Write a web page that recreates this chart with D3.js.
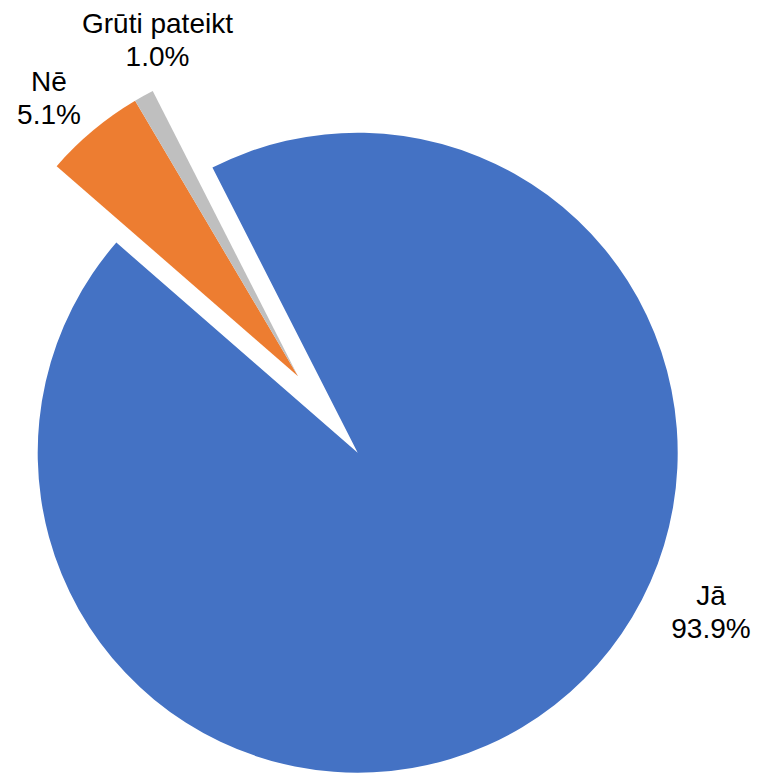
<!DOCTYPE html>
<html>
<head>
<meta charset="utf-8">
<script src="https://cdn.jsdelivr.net/npm/d3@7"></script>
<style>
  html, body { margin: 0; padding: 0; background: #ffffff; }
  svg { display: block; }
  text { font-family: "Liberation Sans", Arial, sans-serif; fill: #000; }
</style>
</head>
<body>
<svg id="chart" width="757" height="774"></svg>
<script>
// ---- data ----
const categories = ["Jā", "Nē", "Grūti pateikt"];
const values = [93.9, 5.1, 1.0];
const valueLabels = ["93.9%", "5.1%", "1.0%"];
const colors = ["#4472C4", "#ED7D31", "#BFBFBF"];
const exploded = [false, true, true];

// ---- layout ----
const W = 757, H = 774;
const cx = 357.7, cy = 452.7, R = 320;
const startDeg = -27;
const explodeDist = 97;
const fontSize = 28;
const lineGap = 33;
// label anchor points (center x, baseline of first line)
const labelPos = [[711, 605], [49, 91], [157.5, 33]];

const svg = d3.select("#chart");
const start = startDeg * Math.PI / 180;

const pie = d3.pie().sort(null).value(d => d)
  .startAngle(start).endAngle(start + 2 * Math.PI);
const arcs = pie(values);
const arc = d3.arc().innerRadius(0).outerRadius(R);

// explosion direction: mid-angle of the combined exploded group
const exArcs = arcs.filter((a, i) => exploded[i]);
const exMid = (d3.min(exArcs, a => a.startAngle) + d3.max(exArcs, a => a.endAngle)) / 2;
const ex = explodeDist * Math.sin(exMid), ey = -explodeDist * Math.cos(exMid);

const g = svg.append("g").attr("transform", `translate(${cx},${cy})`);
g.selectAll("path").data(arcs).join("path")
  .attr("d", arc)
  .attr("fill", (d, i) => colors[i])
  .attr("transform", (d, i) => exploded[i] ? `translate(${ex},${ey})` : null);

const lg = svg.append("g");
categories.forEach((c, i) => {
  const t = lg.append("text")
    .attr("text-anchor", "middle")
    .attr("font-size", fontSize);
  t.append("tspan").attr("x", labelPos[i][0]).attr("y", labelPos[i][1]).text(c);
  t.append("tspan").attr("x", labelPos[i][0]).attr("y", labelPos[i][1] + lineGap).text(valueLabels[i]);
});
</script>
</body>
</html>
